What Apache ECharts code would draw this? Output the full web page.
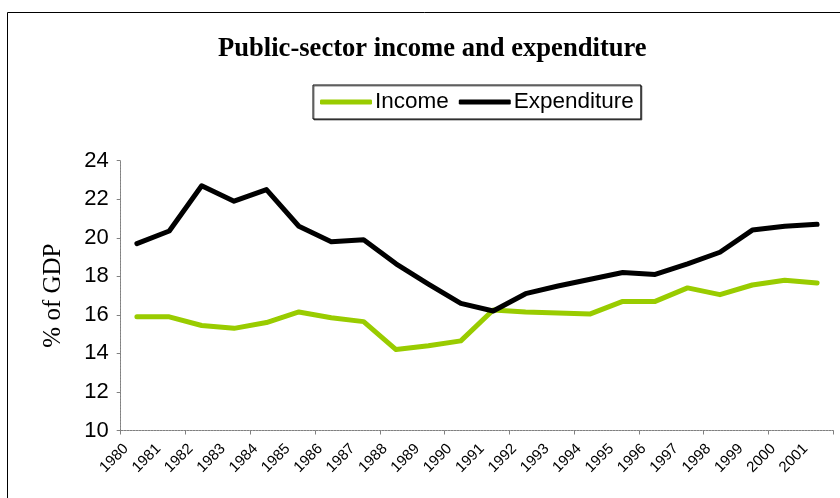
<!DOCTYPE html>
<html>
<head>
<meta charset="utf-8">
<script src="https://cdn.jsdelivr.net/npm/echarts@6/dist/echarts.min.js"></script>
<style>
  html, body { margin: 0; padding: 0; background: #fff; }
  #chart { width: 840px; height: 498px; }
</style>
</head>
<body>
<div id="chart"></div>
<script>
// Public-sector income and expenditure, % of GDP
const years = ['1980','1981','1982','1983','1984','1985','1986','1987','1988','1989','1990',
               '1991','1992','1993','1994','1995','1996','1997','1998','1999','2000','2001'];
const income = [15.9, 15.9, 15.45, 15.3, 15.6, 16.15, 15.85, 15.65, 14.2, 14.4, 14.65,
                16.25, 16.15, 16.1, 16.05, 16.7, 16.7, 17.4, 17.05, 17.55, 17.8, 17.65];
const expenditure = [19.7, 20.35, 22.7, 21.9, 22.5, 20.6, 19.8, 19.9, 18.65, 17.6, 16.6,
                     16.2, 17.1, 17.5, 17.85, 18.2, 18.1, 18.65, 19.25, 20.4, 20.6, 20.7];
const yTicks = { min: 10, max: 24, step: 2 };

const axisGray = '#808080';
const sans = 'Liberation Sans, Arial, sans-serif';
const serif = 'Liberation Serif, Times New Roman, serif';

const chart = echarts.init(document.getElementById('chart'), null, { renderer: 'canvas' });

chart.setOption({
  animation: false,
  backgroundColor: '#fff',
  graphic: [{
    type: 'rect',
    shape: { x: 7.5, y: 12.5, width: 900, height: 600 },
    style: { fill: 'none', stroke: '#000', lineWidth: 1 },
    silent: true
  }],
  title: {
    text: 'Public-sector income and expenditure',
    left: 218,
    top: 36,
    padding: 0,
    textStyle: { fontFamily: serif, fontWeight: 'bold', fontSize: 26.6, color: '#000' }
  },
  legend: {
    left: 313,
    top: 85,
    padding: [5, 7, 5, 7],
    itemGap: 10,
    itemWidth: 52,
    itemHeight: 5,
    icon: 'roundRect',
    borderColor: '#000',
    borderWidth: 1,
    backgroundColor: '#fff',
    shadowColor: 'rgba(0,0,0,0.5)',
    shadowOffsetX: 1,
    shadowOffsetY: 1,
    shadowBlur: 0,
    textStyle: { fontFamily: sans, fontSize: 22.5, color: '#000', lineHeight: 24, padding: [0, 0, 0, -2] },
    data: ['Income', 'Expenditure']
  },
  grid: [
    { left: 120.7, right: 6.7, top: 160.7, bottom: 67.5 },
    // carries only the year labels, which sit on the category boundaries
    { left: 126, right: 1.4, top: 160.7, bottom: 67.5 }
  ],
  xAxis: [{
    type: 'category',
    gridIndex: 0,
    data: years,
    boundaryGap: true,
    axisLine: { lineStyle: { color: axisGray, width: 1, type: [2, 1] } },
    axisTick: { show: true, inside: false, length: 4, lineStyle: { color: axisGray } },
    axisLabel: { show: false },
    splitLine: { show: false }
  }, {
    type: 'category',
    gridIndex: 1,
    data: years.concat(['']),
    boundaryGap: false,
    axisLine: { show: false },
    axisTick: { show: false },
    axisLabel: {
      show: true, interval: 0, rotate: 45, margin: 16,
      fontFamily: sans, fontSize: 15, color: '#000'
    },
    splitLine: { show: false }
  }],
  yAxis: [{
    type: 'value',
    gridIndex: 0,
    min: yTicks.min,
    max: yTicks.max,
    interval: yTicks.step,
    name: '% of GDP',
    nameLocation: 'middle',
    nameRotate: 90,
    nameGap: 55,
    nameTextStyle: { fontFamily: serif, fontSize: 25, color: '#000' },
    axisLine: { show: true, lineStyle: { color: axisGray, width: 1, type: [2, 1] } },
    axisTick: { show: true, inside: false, length: 4, lineStyle: { color: axisGray } },
    axisLabel: { margin: 12, fontFamily: sans, fontSize: 22, color: '#000' },
    splitLine: { show: false }
  }, {
    type: 'value',
    gridIndex: 1,
    show: false,
    min: 0, max: 1
  }],
  series: [{
    name: 'Income',
    type: 'line',
    xAxisIndex: 0,
    yAxisIndex: 0,
    data: income,
    symbol: 'none',
    color: '#99CC00',
    lineStyle: { color: '#99CC00', width: 5, cap: 'round', join: 'round' }
  }, {
    name: 'Expenditure',
    type: 'line',
    xAxisIndex: 0,
    yAxisIndex: 0,
    data: expenditure,
    symbol: 'none',
    color: '#000',
    lineStyle: { color: '#000', width: 5, cap: 'round', join: 'round' }
  }]
});
</script>
</body>
</html>
